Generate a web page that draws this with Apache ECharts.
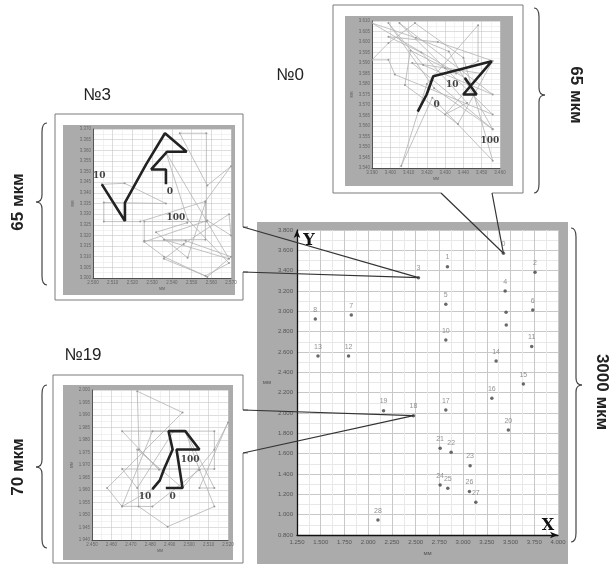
<!DOCTYPE html>
<html>
<head>
<meta charset="utf-8">
<script src="https://cdn.jsdelivr.net/npm/echarts@6/dist/echarts.min.js"></script>
<style>
  html, body { margin: 0; padding: 0; background: #fff; }
  #chart { width: 611px; height: 566px; }
</style>
</head>
<body>
<div id="chart"></div>
<script>
// основной график: точки 0..28 (мм)
var mainNames = ['0', '1', '2', '3', '4', '5', '6', '7', '8', '', '', '10', '11', '12', '13', '14',
  '15', '16', '17', '18', '19', '20', '21', '22', '23', '24', '25', '26', '27', '28'];
var mainX = [3.425, 2.835, 3.758, 2.530, 3.443, 2.818, 3.734, 1.822, 1.443, 3.453, 3.455, 2.818, 3.723,
  1.793, 1.471, 3.348, 3.635, 3.303, 2.818, 2.477, 2.162, 3.477, 2.758, 2.874, 3.074, 2.758, 2.839,
  3.067, 3.134, 2.103];
var mainY = [3.571, 3.439, 3.384, 3.331, 3.200, 3.069, 3.013, 2.964, 2.925, 2.990, 2.866, 2.718, 2.653,
  2.561, 2.561, 2.512, 2.286, 2.145, 2.030, 1.974, 2.023, 1.833, 1.653, 1.614, 1.482, 1.293, 1.260,
  1.227, 1.122, 0.948];

// вставка №0
var ins0XTicks = ['3.390', '3.400', '3.410', '3.420', '3.430', '3.440', '3.450', '3.460'];
var ins0YTicks = ['3.540', '3.545', '3.550', '3.555', '3.560', '3.565', '3.570', '3.575', '3.580',
  '3.585', '3.590', '3.595', '3.600', '3.605', '3.610'];
var ins0Bold = [[2.50, 5.36], [2.99, 7.00], [3.35, 8.74], [6.54, 10.16], [4.99, 7.00], [5.72, 7.00], [5.08, 8.58]];
var ins0Gray = [[5.08, 8.58], [0.0, 13.8], [2.4, 12.4], [4.2, 11.1], [6.6, 3.7], [3.4, 7.6], [0.9, 13.8],
  [2.8, 9.8], [6.6, 7.0], [1.5, 13.8], [4.0, 9.5], [6.6, 5.1], [1.25, 8.9], [0.9, 10.3], [0.0, 10.3],
  [0.9, 11.9], [2.35, 13.8], [5.0, 10.5], [6.6, 0.7], [3.3, 6.7], [1.6, 0.2], [3.0, 8.0], [5.8, 13.6],
  [5.8, 10.2], [4.6, 9.0], [2.1, 11.2], [1.8, 7.9], [4.7, 4.2], [6.6, 10.2], [3.6, 12.0], [0.9, 12.5],
  [2.7, 11.0], [5.2, 6.2], [4.0, 5.1], [6.0, 9.0], [2.2, 10.0], [6.6, 3.7]];
var ins0Marks = [['0', 3.53, 6.06], ['10', 4.39, 7.95], ['100', 6.45, 2.65]];

// вставка №3
var ins3XTicks = ['2.500', '2.510', '2.520', '2.530', '2.540', '2.550', '2.560', '2.570'];
var ins3YTicks = ['3.300', '3.305', '3.310', '3.315', '3.320', '3.325', '3.330', '3.335', '3.340',
  '3.345', '3.350', '3.355', '3.360', '3.365', '3.370'];
var ins3Bold = [[3.70, 8.80], [3.70, 10.20], [2.95, 10.20], [3.75, 11.86], [4.75, 11.86], [3.65, 13.60],
  [2.70, 10.70], [1.62, 7.08], [1.62, 5.35], [0.45, 8.80]];
var ins3Gray = [[0.45, 8.8], [1.6, 8.9], [3.7, 7.0], [0.55, 7.1], [0.55, 5.3], [2.4, 5.3], [5.7, 7.2],
  [7.0, 10.5], [5.8, 8.7], [4.4, 13.6], [5.75, 13.6], [5.75, 5.3], [2.6, 5.3], [2.6, 3.5], [4.7, 3.5],
  [7.0, 2.0], [5.8, 0.1], [3.6, 2.0], [2.6, 3.4], [5.8, 5.4], [7.0, 4.0], [6.9, 6.0], [4.6, 3.2],
  [3.6, 1.8], [5.7, 0.2], [6.9, 1.4], [4.8, 5.5], [3.7, 11.8], [6.9, 1.8], [3.6, 3.6], [5.7, 3.6],
  [5.7, 7.1], [4.8, 1.9], [3.2, 4.3], [4.78, 5.2]];
var ins3Marks = [['10', 0.32, 9.6], ['0', 3.9, 8.15], ['100', 4.2, 5.7]];

// вставка №19
var ins19XTicks = ['2.450', '2.460', '2.470', '2.480', '2.490', '2.500', '2.510', '2.520'];
var ins19YTicks = ['1.940', '1.945', '1.950', '1.955', '1.960', '1.965', '1.970', '1.975', '1.980',
  '1.985', '1.990', '1.995', '2.000'];
var ins19Bold = [[3.80, 4.16], [4.66, 4.16], [4.35, 7.24], [5.53, 7.24], [4.80, 8.71], [3.94, 8.71],
  [4.15, 7.24], [3.71, 5.68], [3.49, 4.77], [3.11, 4.07]];
var ins19Gray = [[3.11, 4.07], [1.55, 2.68], [0.78, 4.16], [4.66, 10.2], [2.33, 11.9], [2.42, 7.24],
  [3.45, 5.63], [1.55, 8.71], [4.2, 8.71], [2.33, 4.16], [1.55, 5.68], [6.3, 5.68], [6.3, 8.71],
  [3.11, 8.71], [1.55, 2.7], [3.11, 2.68], [5.53, 5.63], [6.3, 2.68], [3.89, 1.07], [2.4, 2.68],
  [2.33, 7.24], [4.66, 4.16], [6.3, 7.24], [7.0, 9.4], [5.53, 4.16], [6.3, 4.16], [4.8, 8.71], [5.53, 5.63]];
var ins19Marks = [['10', 2.73, 3.45], ['0', 4.15, 3.45], ['100', 5.05, 6.4]];

var myChart = echarts.init(document.getElementById('chart'));

// оси вставок
function insetX(idx, ticks) {
  return {
    gridIndex: idx, type: 'value', min: 0, max: ticks.length - 1, interval: 1,
    axisLine: { show: true, onZero: false, lineStyle: { color: '#333', width: 0.8 } },
    axisTick: { show: false },
    axisLabel: { fontSize: 4.5, color: '#666', margin: 2, formatter: function (v) { return ticks[Math.round(v)]; } },
    splitLine: { lineStyle: { color: '#c6c6c6', width: 0.6 } },
    minorTick: { splitNumber: 2 },
    minorSplitLine: { show: true, lineStyle: { color: '#e4e4e4', width: 0.5 } },
    name: 'мм', nameLocation: 'middle', nameGap: 8,
    nameTextStyle: { fontSize: 4.5, color: '#666' }
  };
}
function insetY(idx, ticks) {
  var a = insetX(idx, ticks);
  a.nameGap = 18;
  return a;
}

function insetSeries(idx, gray, bold, marks) {
  return [{
    type: 'line', xAxisIndex: idx, yAxisIndex: idx, data: gray, z: 2,
    symbol: 'circle', symbolSize: 2, silent: true,
    lineStyle: { color: '#b3b3b3', width: 0.8 },
    itemStyle: { color: '#999' }
  }, {
    type: 'line', xAxisIndex: idx, yAxisIndex: idx, data: bold, z: 3,
    symbol: 'none', silent: true,
    lineStyle: { color: '#222', width: 2.6 }
  }, {
    type: 'scatter', xAxisIndex: idx, yAxisIndex: idx, z: 4, symbolSize: 1,
    itemStyle: { color: 'rgba(0,0,0,0)' },
    data: marks.map(function (m) { return { name: m[0], value: [m[1], m[2]] }; }),
    label: {
      show: true, position: 'inside', formatter: '{b}',
      fontSize: 9, fontWeight: 'bold', fontFamily: 'DejaVu Serif', color: '#111'
    }
  }];
}

var gridBase = { show: true, backgroundColor: '#fff', borderWidth: 0, containLabel: false };

var option = {
  animation: false,
  grid: [
    Object.assign({ left: 297, top: 230, width: 261, height: 305 }, gridBase),
    Object.assign({ left: 372, top: 21, width: 128, height: 147 }, gridBase),
    Object.assign({ left: 93, top: 129, width: 138, height: 149 }, gridBase),
    Object.assign({ left: 92, top: 390, width: 136, height: 150 }, gridBase)
  ],
  xAxis: [{
    gridIndex: 0, type: 'value', min: 1.25, max: 4, interval: 0.25,
    axisLine: { show: true, onZero: false, symbol: ['none', 'arrow'], symbolSize: [5, 8], lineStyle: { color: '#111', width: 1.3 } },
    axisTick: { show: false },
    axisLabel: { fontSize: 6, color: '#555', margin: 4, formatter: function (v) { return v.toFixed(3); } },
    splitLine: { lineStyle: { color: '#c8c8c8' } },
    minorTick: { splitNumber: 2 },
    minorSplitLine: { show: true, lineStyle: { color: '#e8e8e8' } },
    name: 'мм', nameLocation: 'middle', nameGap: 14,
    nameTextStyle: { fontSize: 6, color: '#555' }
  },
    insetX(1, ins0XTicks), insetX(2, ins3XTicks), insetX(3, ins19XTicks)],
  yAxis: [{
    gridIndex: 0, type: 'value', min: 0.8, max: 3.8, interval: 0.2,
    axisLine: { show: true, onZero: false, symbol: ['none', 'arrow'], symbolSize: [5, 8], lineStyle: { color: '#111', width: 1.3 } },
    axisTick: { show: false },
    axisLabel: { fontSize: 6, color: '#555', margin: 4, formatter: function (v) { return v.toFixed(3); } },
    splitLine: { lineStyle: { color: '#c8c8c8' } },
    minorTick: { splitNumber: 2 },
    minorSplitLine: { show: true, lineStyle: { color: '#e8e8e8' } },
    name: 'мм', nameLocation: 'middle', nameGap: 26, nameRotate: 0,
    nameTextStyle: { fontSize: 6, color: '#555' }
  },
    insetY(1, ins0YTicks), insetY(2, ins3YTicks), insetY(3, ins19YTicks)],
  series: [{
    type: 'scatter', xAxisIndex: 0, yAxisIndex: 0, z: 5,
    symbol: 'circle', symbolSize: 3.5,
    itemStyle: { color: '#444' },
    data: mainNames.map(function (n, i) { return { name: n, value: [mainX[i], mainY[i]] }; }),
    label: { show: true, position: 'top', distance: 4, formatter: '{b}', fontSize: 7, color: '#777' }
  }].concat(
    insetSeries(1, ins0Gray, ins0Bold, ins0Marks),
    insetSeries(2, ins3Gray, ins3Bold, ins3Marks),
    insetSeries(3, ins19Gray, ins19Bold, ins19Marks)
  )
};
myChart.setOption(option);

function rect(x, y, w, h, fill, stroke, z) {
  return { type: 'rect', z: z, silent: true, shape: { x: x, y: y, width: w, height: h },
    style: { fill: fill, stroke: stroke || null, lineWidth: stroke ? 1 : 0 } };
}
function line(x1, y1, x2, y2, color, w, z) {
  return { type: 'line', z: z, silent: true, shape: { x1: x1, y1: y1, x2: x2, y2: y2 },
    style: { stroke: color, lineWidth: w } };
}
function curve(x1, y1, cx, cy, x2, y2) {
  return { type: 'bezierCurve', z: 50, silent: true,
    shape: { x1: x1, y1: y1, cpx1: cx, cpy1: cy, x2: x2, y2: y2 },
    style: { fill: null, stroke: '#444', lineWidth: 1.2 } };
}
function text(x, y, str, font, rot, color) {
  return { type: 'text', z: 100, silent: true, x: x, y: y, rotation: rot || 0,
    style: { text: str, font: font, fill: color || '#222', align: 'center', verticalAlign: 'middle' } };
}

// фигурная скобка: dir = -1 (влево, "{") или 1 (вправо, "}")
function brace(xe, y1, y2, ym, dir) {
  var xb = xe + 5 * dir, xt = xe + 11 * dir;
  return [
    curve(xe, y1, xb, y1, xb, y1 + 9),
    line(xb, y1 + 9, xb, ym - 7, '#444', 1.2, 50),
    curve(xb, ym - 7, xb, ym, xt, ym),
    curve(xt, ym, xb, ym, xb, ym + 7),
    line(xb, ym + 7, xb, y2 - 9, '#444', 1.2, 50),
    curve(xb, y2 - 9, xb, y2, xe, y2)
  ];
}

var p0 = myChart.convertToPixel({ gridIndex: 0 }, [mainX[0], mainY[0]]);
var p3 = myChart.convertToPixel({ gridIndex: 0 }, [mainX[3], mainY[3]]);
var i18 = mainNames.indexOf('18');
var p18 = myChart.convertToPixel({ gridIndex: 0 }, [mainX[i18], mainY[i18]]);

var braceFont = 'bold 17px "Liberation Sans", Arial, sans-serif';
var titleFont = '17px "Liberation Sans", Arial, sans-serif';

var elements = [
  // серые панели и рамки вставок
  rect(257, 222, 311, 342, '#ababab', null, -20),
  rect(333, 5, 190, 188, '#fff', '#7a7a7a', -20),
  rect(345, 16, 168, 170, '#ababab', null, -19),
  rect(55, 114, 188, 186, '#fff', '#7a7a7a', -20),
  rect(63, 125, 172, 170, '#ababab', null, -19),
  rect(53, 375, 190, 188, '#fff', '#7a7a7a', -20),
  rect(63, 385, 170, 175, '#ababab', null, -19),
  // разрывы рамок под выноски
  line(441, 193, 492, 193, '#fff', 2, -18),
  line(243, 227, 243, 272, '#fff', 2, -18),
  line(243, 410, 243, 453, '#fff', 2, -18),
  line(243, 227, 248, 227, '#7a7a7a', 1, -18),
  line(243, 272, 248, 272, '#7a7a7a', 1, -18),
  line(243, 410, 248, 410, '#7a7a7a', 1, -18),
  line(243, 453, 248, 453, '#7a7a7a', 1, -18),
  // выноски
  line(441, 193, p0[0], p0[1], '#333', 1.2, 90),
  line(492, 193, p0[0], p0[1], '#333', 1.2, 90),
  line(243, 227, p3[0], p3[1], '#333', 1.2, 90),
  line(243, 272, p3[0], p3[1], '#333', 1.2, 90),
  line(243, 410, p18[0], p18[1], '#333', 1.2, 90),
  line(243, 453, p18[0], p18[1], '#333', 1.2, 90),
  // подписи
  text(18, 202, '65 мкм', braceFont, Math.PI / 2),
  text(18, 467, '70 мкм', braceFont, Math.PI / 2),
  text(576, 95, '65 мкм', braceFont, -Math.PI / 2),
  text(602, 392, '3000 мкм', braceFont, -Math.PI / 2),
  text(97, 95, '№3', titleFont),
  text(290, 75, '№0', titleFont),
  text(83, 355, '№19', titleFont),
  text(309, 241, 'Y', 'bold 16px "DejaVu Serif", serif', 0, '#111'),
  text(548, 526, 'X', 'bold 16px "DejaVu Serif", serif', 0, '#111')
].concat(
  brace(47, 123, 285, 202, -1),
  brace(47, 385, 548, 467, -1),
  brace(534, 8, 193, 95, 1),
  brace(571, 228, 542, 385, 1)
);

myChart.setOption({ graphic: { elements: elements } });

window.addEventListener('resize', function () {
  myChart.resize();
});
</script>
</body>
</html>
